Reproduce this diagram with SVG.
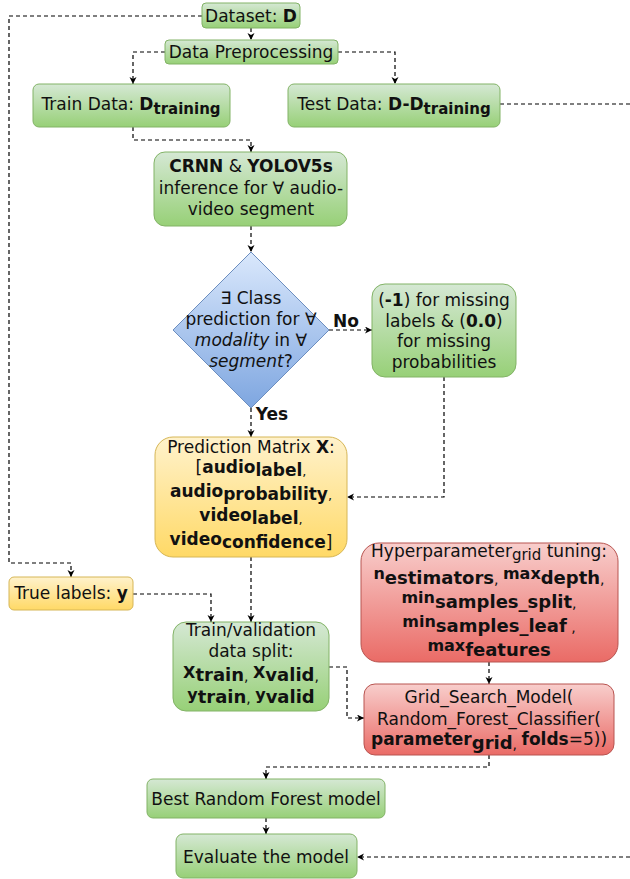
<svg xmlns="http://www.w3.org/2000/svg" width="630" height="879" viewBox="0 0 630 879">
<style>
text{font-family:"DejaVu Sans","Liberation Sans",sans-serif;font-size:17px;fill:#111;text-anchor:middle}
.b{font-weight:bold}
.i{font-style:italic}
.g{fill:url(#gG);stroke:#82b366;stroke-width:1}
.y{fill:url(#gY);stroke:#d6b656;stroke-width:1}
.r{fill:url(#gR);stroke:#b85450;stroke-width:1}
.bl{fill:url(#gB);stroke:#6c8ebf;stroke-width:1}
.c{fill:none;stroke:#000;stroke-width:1.2;stroke-dasharray:4 3;marker-end:url(#ah)}
.cn{fill:none;stroke:#000;stroke-width:1.2;stroke-dasharray:4 3}
</style>
<defs>
<linearGradient id="gG" x1="0" y1="0" x2="0" y2="1"><stop offset="0" stop-color="#d5e8d4"/><stop offset="1" stop-color="#97d077"/></linearGradient>
<linearGradient id="gY" x1="0" y1="0" x2="0" y2="1"><stop offset="0" stop-color="#fff2cc"/><stop offset="1" stop-color="#ffd966"/></linearGradient>
<linearGradient id="gR" x1="0" y1="0" x2="0" y2="1"><stop offset="0" stop-color="#f8cecc"/><stop offset="1" stop-color="#ea6b66"/></linearGradient>
<linearGradient id="gB" x1="0" y1="0" x2="0" y2="1"><stop offset="0" stop-color="#dae8fc"/><stop offset="1" stop-color="#7ea6e0"/></linearGradient>
<marker id="ah" markerUnits="userSpaceOnUse" markerWidth="8" markerHeight="8" refX="7" refY="3.5" orient="auto"><path d="M0,0 L7,3.5 L0,7 L2,3.5 z" fill="#000"/></marker>
</defs>

<g id="connectors">
<path class="c" d="M251,28 V40"/>
<path class="c" d="M165,52 H133 V84"/>
<path class="c" d="M338,52 H395 V84"/>
<path class="c" d="M202,16 H9 V563 H71 V577"/>
<path class="cn" d="M500,104 H630"/>
<path class="c" d="M133,127 V140 H251 V152"/>
<path class="c" d="M251,226 V252"/>
<path class="c" d="M329,330 H372"/>
<path class="c" d="M251,408 V437"/>
<path class="c" d="M444,377 V497 H347"/>
<path class="c" d="M251,557 V622"/>
<path class="c" d="M133,594 H211 V622"/>
<path class="c" d="M489,662 V684"/>
<path class="c" d="M329,667 H347 V718 H364"/>
<path class="c" d="M489,755 V767 H266 V779"/>
<path class="c" d="M266,818 V834"/>
<path class="c" d="M630,857 H357"/>
<text class="b" x="346" y="327">No</text>
<text class="b" x="272" y="420">Yes</text>
</g>

<g id="dataset">
<rect class="g" x="202" y="3" width="98" height="25" rx="4"/>
<text x="251" y="22">Dataset: <tspan class="b">D</tspan></text>
</g>

<g id="preprocessing">
<rect class="g" x="165" y="40" width="173" height="24" rx="4"/>
<text x="251" y="58">Data Preprocessing</text>
</g>

<g id="train-data">
<rect class="g" x="33" y="84" width="197" height="43" rx="6"/>
<text x="131" y="110">Train Data: <tspan class="b">D</tspan><tspan class="b" font-size="15" dy="4">training</tspan></text>
</g>

<g id="test-data">
<rect class="g" x="288" y="84" width="212" height="43" rx="6"/>
<text x="394" y="110">Test Data: <tspan class="b">D-D</tspan><tspan class="b" font-size="15" dy="4">training</tspan></text>
</g>

<g id="inference">
<rect class="g" x="154" y="152" width="193" height="74" rx="11"/>
<text x="251" y="172"><tspan class="b">CRNN</tspan> &amp; <tspan class="b">YOLOV5s</tspan></text>
<text x="251" y="194">inference for ∀ audio-</text>
<text x="251" y="215">video segment</text>
</g>

<g id="decision">
<polygon class="bl" points="251,252 329,330 251,408 173,330"/>
<text x="251" y="304">∃ Class</text>
<text x="251" y="325">prediction for ∀</text>
<text x="251" y="346"><tspan class="i">modality</tspan> in ∀</text>
<text x="251" y="367"><tspan class="i">segment</tspan>?</text>
</g>

<g id="missing">
<rect class="g" x="372" y="284" width="144" height="93" rx="13"/>
<text x="444" y="306">(<tspan class="b">-1</tspan>) for missing</text>
<text x="444" y="327">labels &amp; (<tspan class="b">0.0</tspan>)</text>
<text x="444" y="347">for missing</text>
<text x="444" y="368">probabilities</text>
</g>

<g id="prediction-matrix">
<rect class="y" x="155" y="437" width="192" height="120" rx="18"/>
<text x="251" y="453">Prediction Matrix <tspan class="b">X</tspan>:</text>
<text x="251" y="473">[<tspan class="b">audio</tspan><tspan class="b" dy="3">label</tspan><tspan font-size="13">,</tspan></text>
<text x="251" y="497"><tspan class="b">audio</tspan><tspan class="b" dy="3">probability</tspan><tspan font-size="13">,</tspan></text>
<text x="251" y="521"><tspan class="b">video</tspan><tspan class="b" dy="3">label</tspan><tspan font-size="13">,</tspan></text>
<text x="251" y="545"><tspan class="b">video</tspan><tspan class="b" dy="3">confidence</tspan>]</text>
</g>

<g id="true-labels">
<rect class="y" x="9" y="577" width="124" height="33" rx="5"/>
<text x="71" y="599">True labels: <tspan class="b">y</tspan></text>
</g>

<g id="train-validation">
<rect class="g" x="173" y="622" width="156" height="89" rx="13"/>
<text x="251" y="636">Train/validation</text>
<text x="251" y="657">data split:</text>
<text x="251" y="678"><tspan class="b" font-size="16">X</tspan><tspan class="b" font-size="18" dy="3">train</tspan><tspan font-size="14">, </tspan><tspan class="b" font-size="16" dy="-3">X</tspan><tspan class="b" font-size="18" dy="3">valid</tspan><tspan font-size="14">,</tspan></text>
<text x="251" y="700"><tspan class="b" font-size="16">y</tspan><tspan class="b" font-size="18" dy="3">train</tspan><tspan font-size="14">, </tspan><tspan class="b" font-size="16" dy="-3">y</tspan><tspan class="b" font-size="18" dy="3">valid</tspan></text>
</g>

<g id="hyperparameter">
<rect class="r" x="361" y="543" width="257" height="119" rx="18"/>
<text x="489" y="557">Hyperparameter<tspan font-size="15" dy="3">grid</tspan><tspan dy="-3"> tuning:</tspan></text>
<text x="489" y="579"><tspan class="b" font-size="16">n</tspan><tspan class="b" font-size="18" dy="5">estimators</tspan><tspan font-size="14">, </tspan><tspan class="b" font-size="16" dy="-5">max</tspan><tspan class="b" font-size="18" dy="5">depth</tspan><tspan font-size="14">,</tspan></text>
<text x="489" y="603"><tspan class="b" font-size="16">min</tspan><tspan class="b" font-size="18" dy="5">samples_split</tspan><tspan font-size="14">,</tspan></text>
<text x="489" y="627"><tspan class="b" font-size="16">min</tspan><tspan class="b" font-size="18" dy="5">samples_leaf</tspan><tspan font-size="14"> ,</tspan></text>
<text x="489" y="651"><tspan class="b" font-size="16">max</tspan><tspan class="b" font-size="18" dy="5">features</tspan></text>
</g>

<g id="grid-search">
<rect class="r" x="364" y="684" width="250" height="71" rx="11"/>
<text x="489" y="703">Grid_Search_Model(</text>
<text x="489" y="725">Random_Forest_Classifier(</text>
<text x="489" y="745"><tspan class="b">parameter</tspan><tspan class="b" font-size="18" dy="4">grid</tspan><tspan font-size="14">, </tspan><tspan class="b" dy="-4">folds</tspan>=5))</text>
</g>

<g id="best-model">
<rect class="g" x="147" y="779" width="238" height="39" rx="6"/>
<text x="266" y="805">Best Random Forest model</text>
</g>

<g id="evaluate">
<rect class="g" x="176" y="834" width="181" height="44" rx="7"/>
<text x="266" y="863">Evaluate the model</text>
</g>
</svg>
